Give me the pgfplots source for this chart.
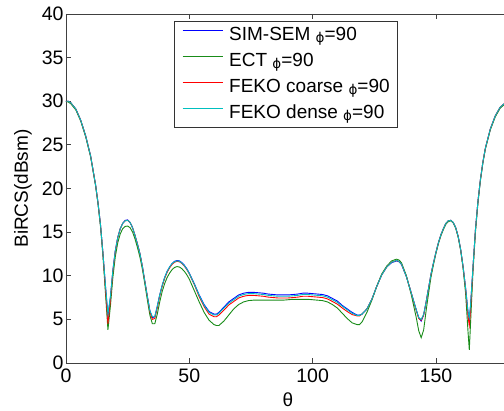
\documentclass[border=0pt]{standalone}
\usepackage{fontspec}
\setmainfont{Liberation Sans}
\newfontfamily\symfont{DejaVu Sans}
\usepackage{pgfplots}
\usepackage{pgfplotstable}
\pgfplotsset{compat=1.18}
\usetikzlibrary{calc}

\newcommand{\phisym}{{\symfont\fontsize{13.5}{13.5}\selectfont\raisebox{-1.5pt}{ϕ}}}

% theta, SIM-SEM, ECT, FEKO coarse, FEKO dense
\pgfplotstableread{
t     sem    ect    coarse  dense
0     30.0   30.0   30.0    30.0
1     30.0   29.9   30.0    30.0
2     29.8   29.7   29.8    29.8
4     29.1   29.0   29.1    29.1
6     27.8   27.7   27.8    27.8
8     26.0   25.9   26.0    26.0
10    23.7   23.6   23.7    23.7
12    20.4   20.3   20.4    20.4
13    18.3   18.2   18.3    18.3
14    15.8   15.6   15.8    15.8
15    12.5   12.2   12.5    12.5
16    8.8    8.0    8.5     8.9
17    5.4    3.8    4.5     5.6
18    7.5    6.5    7.2     7.6
19    10.6   9.8    10.5    10.6
20    12.9   12.2   12.8    12.9
21    14.4   13.8   14.4    14.4
22    15.4   14.8   15.4    15.4
23    16.0   15.4   16.0    16.0
24    16.35  15.65  16.3    16.3
25    16.4   15.7   16.35   16.35
26    16.1   15.5   16.1    16.1
27    15.5   15.0   15.5    15.5
28    14.6   14.2   14.6    14.6
29    13.6   13.2   13.6    13.6
30    12.5   12.1   12.5    12.5
31    11.0   10.7   11.0    11.0
32    9.3    9.0    9.3     9.3
33    7.6    7.2    7.6     7.6
34    6.0    5.5    5.9     6.0
35    5.2    4.5    5.0     5.3
36    5.3    4.5    5.1     5.3
37    6.5    5.6    6.3     6.5
38    7.8    7.0    7.7     7.8
39    8.9    8.2    8.8     8.9
40    9.8    9.1    9.7     9.8
41    10.5   9.8    10.4    10.5
42    11.0   10.3   10.9    11.0
43    11.4   10.7   11.3    11.4
44    11.65  10.95  11.55   11.6
45    11.75  11.05  11.65   11.7
46    11.7   11.0   11.6    11.65
47    11.5   10.8   11.4    11.45
48    11.2   10.5   11.1    11.15
49    10.8   10.1   10.7    10.75
50    10.3   9.6    10.2    10.25
52    9.1    8.3    9.0     9.05
54    7.8    7.0    7.6     7.75
56    6.7    5.8    6.45    6.6
58    5.9    4.9    5.6     5.8
60    5.6    4.4    5.3     5.5
61    5.6    4.3    5.3     5.5
62    5.8    4.3    5.5     5.7
64    6.4    4.8    6.05    6.3
66    7.0    5.5    6.65    6.85
68    7.4    6.2    7.05    7.25
70    7.8    6.7    7.45    7.65
72    8.0    7.0    7.65    7.85
74    8.1    7.15   7.75    7.95
76    8.1    7.2    7.75    7.95
78    8.05   7.2    7.7     7.9
80    8.0    7.2    7.65    7.85
82    7.9    7.2    7.55    7.75
84    7.85   7.2    7.5     7.7
86    7.8    7.2    7.45    7.65
88    7.8    7.2    7.45    7.65
90    7.8    7.25   7.45    7.65
92    7.85   7.3    7.5     7.7
94    7.9    7.3    7.55    7.75
96    8.0    7.3    7.65    7.85
98    8.0    7.3    7.65    7.85
100   7.95   7.25   7.6     7.8
102   7.9    7.2    7.55    7.75
104   7.85   7.15   7.5     7.7
106   7.7    7.0    7.35    7.55
108   7.4    6.7    7.05    7.25
110   7.1    6.3    6.75    6.95
112   6.6    5.7    6.3     6.5
114   6.2    5.1    5.9     6.1
116   5.8    4.6    5.55    5.7
118   5.5    4.4    5.4     5.45
119   5.5    4.4    5.4     5.45
120   5.6    4.7    5.6     5.6
122   6.2    5.8    6.2     6.2
124   7.3    7.2    7.3     7.3
126   8.8    8.8    8.8     8.8
128   10.1   10.2   10.1    10.1
130   11.0   11.1   11.0    11.0
132   11.5   11.7   11.55   11.55
134   11.7   11.9   11.75   11.75
135   11.6   11.8   11.65   11.65
136   11.3   11.5   11.35   11.35
138   9.9    10.0   9.9     9.9
140   8.0    7.8    8.0     8.0
142   6.1    5.2    6.0     6.1
143   5.2    3.7    5.1     5.2
144   4.8    2.9    4.9     5.0
145   5.5    3.8    5.5     5.6
146   7.0    6.0    7.0     7.0
147   8.6    8.0    8.6     8.6
148   10.2   9.9    10.2    10.2
149   11.5   11.3   11.5    11.5
150   12.7   12.6   12.7    12.7
151   13.8   13.7   13.8    13.8
152   14.7   14.6   14.7    14.7
153   15.4   15.3   15.4    15.4
154   16.0   15.9   16.0    16.0
155   16.3   16.2   16.3    16.3
156   16.35  16.3   16.35   16.35
157   16.1   16.05  16.1    16.1
158   15.5   15.45  15.5    15.5
159   14.5   14.4   14.5    14.5
160   13.0   12.9   13.0    13.0
161   11.0   10.8   11.0    11.0
162   8.6    8.0    8.5     8.6
163   5.8    3.5    5.3     5.8
163.5 5.0    1.5    4.3     5.2
164   6.5    4.5    6.0     6.6
165   11.0   10.5   10.9    11.0
166   15.3   15.0   15.3    15.3
167   18.5   18.3   18.5    18.5
168   21.0   20.9   21.0    21.0
169   23.0   22.9   23.0    23.0
170   24.6   24.5   24.6    24.6
172   26.8   26.7   26.8    26.8
174   28.3   28.2   28.3    28.3
176   29.3   29.2   29.3    29.3
178   29.8   29.7   29.8    29.8
180   30.0   29.9   30.0    30.0
}\birdata

\definecolor{mblue}{rgb}{0,0,1}
\definecolor{mgreen}{rgb}{0.1,0.55,0.1}
\definecolor{mred}{rgb}{1,0,0}
\definecolor{mcyan}{rgb}{0,0.75,0.75}

\begin{document}
\begin{tikzpicture}
\begin{axis}[
    name=ax,
    width=444pt, height=349pt,
    scale only axis,
    xmin=0, xmax=180, ymin=0, ymax=40,
    xtick={0,50,100,150},
    ytick={0,5,...,40},
    tick align=inside,
    major tick length=5pt,
    axis line style={black!75, line width=0.8pt},
    every tick/.style={black!75, line width=0.8pt},
    /pgf/number format/assume math mode=true,
    tick label style={font=\fontsize{19.5}{21}\selectfont},
    xticklabel style={yshift=-2pt},
    yticklabel style={xshift=1pt},
    xlabel={θ},
    ylabel={BiRCS(dBsm)},
    label style={font=\fontsize{19}{21}\selectfont},
    xlabel style={at={(axis description cs:0.5,-0.106)}, anchor=center},
    ylabel style={at={(axis description cs:-0.097,0.5)}, anchor=center},
    legend cell align=left,
    legend image code/.code={\draw[#1, line width=0.9pt] (0pt,5pt) -- (40pt,5pt);},
    legend style={at={(0.243,0.98)}, anchor=north west,
        draw=black!80, line width=0.8pt, fill=white,
        inner xsep=8pt, inner ysep=6.5pt,
        row sep=11pt, column sep=6pt,
        nodes={inner sep=0pt, text height=13pt, text depth=2pt,
               font=\fontsize{19}{21}\selectfont}},
]
\addplot[color=mblue, line width=0.9pt] table[x=t, y=sem] {\birdata};
\addlegendentry{SIM-SEM \phisym=90}
\addplot[color=mgreen, line width=0.9pt] table[x=t, y=ect] {\birdata};
\addlegendentry{ECT \phisym=90}
\addplot[color=mred, line width=0.9pt] table[x=t, y=coarse] {\birdata};
\addlegendentry{FEKO coarse \phisym=90}
\addplot[color=mcyan, line width=0.9pt] table[x=t, y=dense] {\birdata};
\addlegendentry{FEKO dense \phisym=90}
\end{axis}
\pgfresetboundingbox
\path[use as bounding box] ($(ax.south west)+(-66pt,-48pt)$) rectangle ($(ax.north east)+(-6pt,14pt)$);
\end{tikzpicture}
\end{document}
